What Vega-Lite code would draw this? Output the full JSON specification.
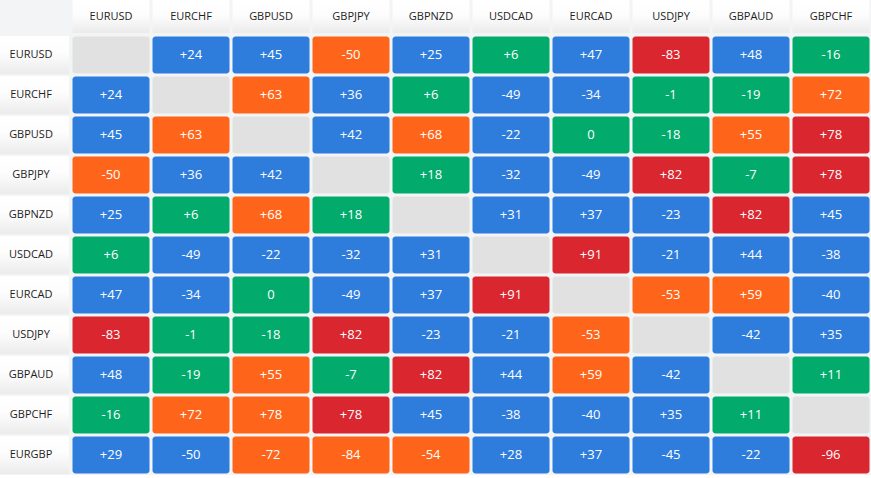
{
  "$schema": "https://vega.github.io/schema/vega-lite/v6.json",
  "background": "#f3f4f6",
  "padding": 0,
  "config": {"view": {"stroke": null}, "font": "Open Sans"},
  "datasets": {
    "rows": [{"p":"EURUSD"},{"p":"EURCHF"},{"p":"GBPUSD"},{"p":"GBPJPY"},{"p":"GBPNZD"},{"p":"USDCAD"},{"p":"EURCAD"},{"p":"USDJPY"},{"p":"GBPAUD"},{"p":"GBPCHF"},{"p":"EURGBP"}],
    "cols": [{"p":"EURUSD"},{"p":"EURCHF"},{"p":"GBPUSD"},{"p":"GBPJPY"},{"p":"GBPNZD"},{"p":"USDCAD"},{"p":"EURCAD"},{"p":"USDJPY"},{"p":"GBPAUD"},{"p":"GBPCHF"}],
    "cells": [
      {"r":"EURUSD","c":"EURUSD","t":"","k":"x"},{"r":"EURUSD","c":"EURCHF","t":"+24","k":"b"},{"r":"EURUSD","c":"GBPUSD","t":"+45","k":"b"},{"r":"EURUSD","c":"GBPJPY","t":"-50","k":"o"},{"r":"EURUSD","c":"GBPNZD","t":"+25","k":"b"},{"r":"EURUSD","c":"USDCAD","t":"+6","k":"g"},{"r":"EURUSD","c":"EURCAD","t":"+47","k":"b"},{"r":"EURUSD","c":"USDJPY","t":"-83","k":"r"},{"r":"EURUSD","c":"GBPAUD","t":"+48","k":"b"},{"r":"EURUSD","c":"GBPCHF","t":"-16","k":"g"},
      {"r":"EURCHF","c":"EURUSD","t":"+24","k":"b"},{"r":"EURCHF","c":"EURCHF","t":"","k":"x"},{"r":"EURCHF","c":"GBPUSD","t":"+63","k":"o"},{"r":"EURCHF","c":"GBPJPY","t":"+36","k":"b"},{"r":"EURCHF","c":"GBPNZD","t":"+6","k":"g"},{"r":"EURCHF","c":"USDCAD","t":"-49","k":"b"},{"r":"EURCHF","c":"EURCAD","t":"-34","k":"b"},{"r":"EURCHF","c":"USDJPY","t":"-1","k":"g"},{"r":"EURCHF","c":"GBPAUD","t":"-19","k":"g"},{"r":"EURCHF","c":"GBPCHF","t":"+72","k":"o"},
      {"r":"GBPUSD","c":"EURUSD","t":"+45","k":"b"},{"r":"GBPUSD","c":"EURCHF","t":"+63","k":"o"},{"r":"GBPUSD","c":"GBPUSD","t":"","k":"x"},{"r":"GBPUSD","c":"GBPJPY","t":"+42","k":"b"},{"r":"GBPUSD","c":"GBPNZD","t":"+68","k":"o"},{"r":"GBPUSD","c":"USDCAD","t":"-22","k":"b"},{"r":"GBPUSD","c":"EURCAD","t":"0","k":"g"},{"r":"GBPUSD","c":"USDJPY","t":"-18","k":"g"},{"r":"GBPUSD","c":"GBPAUD","t":"+55","k":"o"},{"r":"GBPUSD","c":"GBPCHF","t":"+78","k":"r"},
      {"r":"GBPJPY","c":"EURUSD","t":"-50","k":"o"},{"r":"GBPJPY","c":"EURCHF","t":"+36","k":"b"},{"r":"GBPJPY","c":"GBPUSD","t":"+42","k":"b"},{"r":"GBPJPY","c":"GBPJPY","t":"","k":"x"},{"r":"GBPJPY","c":"GBPNZD","t":"+18","k":"g"},{"r":"GBPJPY","c":"USDCAD","t":"-32","k":"b"},{"r":"GBPJPY","c":"EURCAD","t":"-49","k":"b"},{"r":"GBPJPY","c":"USDJPY","t":"+82","k":"r"},{"r":"GBPJPY","c":"GBPAUD","t":"-7","k":"g"},{"r":"GBPJPY","c":"GBPCHF","t":"+78","k":"r"},
      {"r":"GBPNZD","c":"EURUSD","t":"+25","k":"b"},{"r":"GBPNZD","c":"EURCHF","t":"+6","k":"g"},{"r":"GBPNZD","c":"GBPUSD","t":"+68","k":"o"},{"r":"GBPNZD","c":"GBPJPY","t":"+18","k":"g"},{"r":"GBPNZD","c":"GBPNZD","t":"","k":"x"},{"r":"GBPNZD","c":"USDCAD","t":"+31","k":"b"},{"r":"GBPNZD","c":"EURCAD","t":"+37","k":"b"},{"r":"GBPNZD","c":"USDJPY","t":"-23","k":"b"},{"r":"GBPNZD","c":"GBPAUD","t":"+82","k":"r"},{"r":"GBPNZD","c":"GBPCHF","t":"+45","k":"b"},
      {"r":"USDCAD","c":"EURUSD","t":"+6","k":"g"},{"r":"USDCAD","c":"EURCHF","t":"-49","k":"b"},{"r":"USDCAD","c":"GBPUSD","t":"-22","k":"b"},{"r":"USDCAD","c":"GBPJPY","t":"-32","k":"b"},{"r":"USDCAD","c":"GBPNZD","t":"+31","k":"b"},{"r":"USDCAD","c":"USDCAD","t":"","k":"x"},{"r":"USDCAD","c":"EURCAD","t":"+91","k":"r"},{"r":"USDCAD","c":"USDJPY","t":"-21","k":"b"},{"r":"USDCAD","c":"GBPAUD","t":"+44","k":"b"},{"r":"USDCAD","c":"GBPCHF","t":"-38","k":"b"},
      {"r":"EURCAD","c":"EURUSD","t":"+47","k":"b"},{"r":"EURCAD","c":"EURCHF","t":"-34","k":"b"},{"r":"EURCAD","c":"GBPUSD","t":"0","k":"g"},{"r":"EURCAD","c":"GBPJPY","t":"-49","k":"b"},{"r":"EURCAD","c":"GBPNZD","t":"+37","k":"b"},{"r":"EURCAD","c":"USDCAD","t":"+91","k":"r"},{"r":"EURCAD","c":"EURCAD","t":"","k":"x"},{"r":"EURCAD","c":"USDJPY","t":"-53","k":"o"},{"r":"EURCAD","c":"GBPAUD","t":"+59","k":"o"},{"r":"EURCAD","c":"GBPCHF","t":"-40","k":"b"},
      {"r":"USDJPY","c":"EURUSD","t":"-83","k":"r"},{"r":"USDJPY","c":"EURCHF","t":"-1","k":"g"},{"r":"USDJPY","c":"GBPUSD","t":"-18","k":"g"},{"r":"USDJPY","c":"GBPJPY","t":"+82","k":"r"},{"r":"USDJPY","c":"GBPNZD","t":"-23","k":"b"},{"r":"USDJPY","c":"USDCAD","t":"-21","k":"b"},{"r":"USDJPY","c":"EURCAD","t":"-53","k":"o"},{"r":"USDJPY","c":"USDJPY","t":"","k":"x"},{"r":"USDJPY","c":"GBPAUD","t":"-42","k":"b"},{"r":"USDJPY","c":"GBPCHF","t":"+35","k":"b"},
      {"r":"GBPAUD","c":"EURUSD","t":"+48","k":"b"},{"r":"GBPAUD","c":"EURCHF","t":"-19","k":"g"},{"r":"GBPAUD","c":"GBPUSD","t":"+55","k":"o"},{"r":"GBPAUD","c":"GBPJPY","t":"-7","k":"g"},{"r":"GBPAUD","c":"GBPNZD","t":"+82","k":"r"},{"r":"GBPAUD","c":"USDCAD","t":"+44","k":"b"},{"r":"GBPAUD","c":"EURCAD","t":"+59","k":"o"},{"r":"GBPAUD","c":"USDJPY","t":"-42","k":"b"},{"r":"GBPAUD","c":"GBPAUD","t":"","k":"x"},{"r":"GBPAUD","c":"GBPCHF","t":"+11","k":"g"},
      {"r":"GBPCHF","c":"EURUSD","t":"-16","k":"g"},{"r":"GBPCHF","c":"EURCHF","t":"+72","k":"o"},{"r":"GBPCHF","c":"GBPUSD","t":"+78","k":"o"},{"r":"GBPCHF","c":"GBPJPY","t":"+78","k":"r"},{"r":"GBPCHF","c":"GBPNZD","t":"+45","k":"b"},{"r":"GBPCHF","c":"USDCAD","t":"-38","k":"b"},{"r":"GBPCHF","c":"EURCAD","t":"-40","k":"b"},{"r":"GBPCHF","c":"USDJPY","t":"+35","k":"b"},{"r":"GBPCHF","c":"GBPAUD","t":"+11","k":"g"},{"r":"GBPCHF","c":"GBPCHF","t":"","k":"x"},
      {"r":"EURGBP","c":"EURUSD","t":"+29","k":"b"},{"r":"EURGBP","c":"EURCHF","t":"-50","k":"b"},{"r":"EURGBP","c":"GBPUSD","t":"-72","k":"o"},{"r":"EURGBP","c":"GBPJPY","t":"-84","k":"o"},{"r":"EURGBP","c":"GBPNZD","t":"-54","k":"o"},{"r":"EURGBP","c":"USDCAD","t":"+28","k":"b"},{"r":"EURGBP","c":"EURCAD","t":"+37","k":"b"},{"r":"EURGBP","c":"USDJPY","t":"-45","k":"b"},{"r":"EURGBP","c":"GBPAUD","t":"-22","k":"b"},{"r":"EURGBP","c":"GBPCHF","t":"-96","k":"r"}
    ]
  },
  "columns": 2,
  "spacing": {"row": 2, "column": 2},
  "concat": [
    {
      "width": 69, "height": 33,
      "data": {"values": [{}]},
      "mark": {"type": "text", "text": ""},
      "encoding": {}
    },
    {
      "width": 800, "height": 33,
      "data": {"name": "cols"},
      "layer": [
        {
          "mark": {"type": "rect", "fill": {"gradient": "linear", "x1": 0, "y1": 0, "x2": 0, "y2": 1, "stops": [{"offset": 0, "color": "#ffffff"}, {"offset": 0.45, "color": "#fdfdfd"}, {"offset": 1, "color": "#ebebeb"}]}},
          "encoding": {"x": {"field": "p", "type": "nominal", "sort": null, "axis": null, "scale": {"paddingInner": 0.0375, "paddingOuter": 0.01875}}}
        },
        {
          "mark": {"type": "text", "fontSize": 11, "color": "#1e1e1e", "dy": 0},
          "encoding": {"x": {"field": "p", "type": "nominal", "sort": null, "axis": null, "scale": {"paddingInner": 0.0375, "paddingOuter": 0.01875}}, "text": {"field": "p"}}
        }
      ]
    },
    {
      "width": 69, "height": 440,
      "data": {"name": "rows"},
      "layer": [
        {
          "mark": {"type": "rect", "fill": {"gradient": "linear", "x1": 0, "y1": 0, "x2": 0, "y2": 1, "stops": [{"offset": 0, "color": "#ffffff"}, {"offset": 0.45, "color": "#fdfdfd"}, {"offset": 1, "color": "#ebebeb"}]}},
          "encoding": {"y": {"field": "p", "type": "nominal", "sort": null, "axis": null, "scale": {"paddingInner": 0.05, "paddingOuter": 0.025}}}
        },
        {
          "mark": {"type": "text", "fontSize": 11, "color": "#1e1e1e", "dx": -3.5},
          "encoding": {"y": {"field": "p", "type": "nominal", "sort": null, "axis": null, "scale": {"paddingInner": 0.05, "paddingOuter": 0.025}}, "text": {"field": "p"}}
        }
      ]
    },
    {
      "width": 800, "height": 440,
      "data": {"name": "cells"},
      "encoding": {
        "x": {"field": "c", "type": "nominal", "sort": ["EURUSD","EURCHF","GBPUSD","GBPJPY","GBPNZD","USDCAD","EURCAD","USDJPY","GBPAUD","GBPCHF"], "axis": null, "scale": {"paddingInner": 0.0375, "paddingOuter": 0.01875}},
        "y": {"field": "r", "type": "nominal", "sort": ["EURUSD","EURCHF","GBPUSD","GBPJPY","GBPNZD","USDCAD","EURCAD","USDJPY","GBPAUD","GBPCHF","EURGBP"], "axis": null, "scale": {"paddingInner": 0.075, "paddingOuter": 0.0375}}
      },
      "layer": [
        {
          "mark": {"type": "rect", "cornerRadius": 3},
          "encoding": {"color": {"field": "k", "type": "nominal", "legend": null, "scale": {"domain": ["b", "g", "o", "r", "x"], "range": ["#2e7ddd", "#02ab6b", "#fe651a", "#d9262f", "#e1e1e1"]}}}
        },
        {
          "mark": {"type": "text", "fontSize": 13, "color": "#ffffff"},
          "encoding": {"text": {"field": "t"}}
        }
      ]
    }
  ]
}
